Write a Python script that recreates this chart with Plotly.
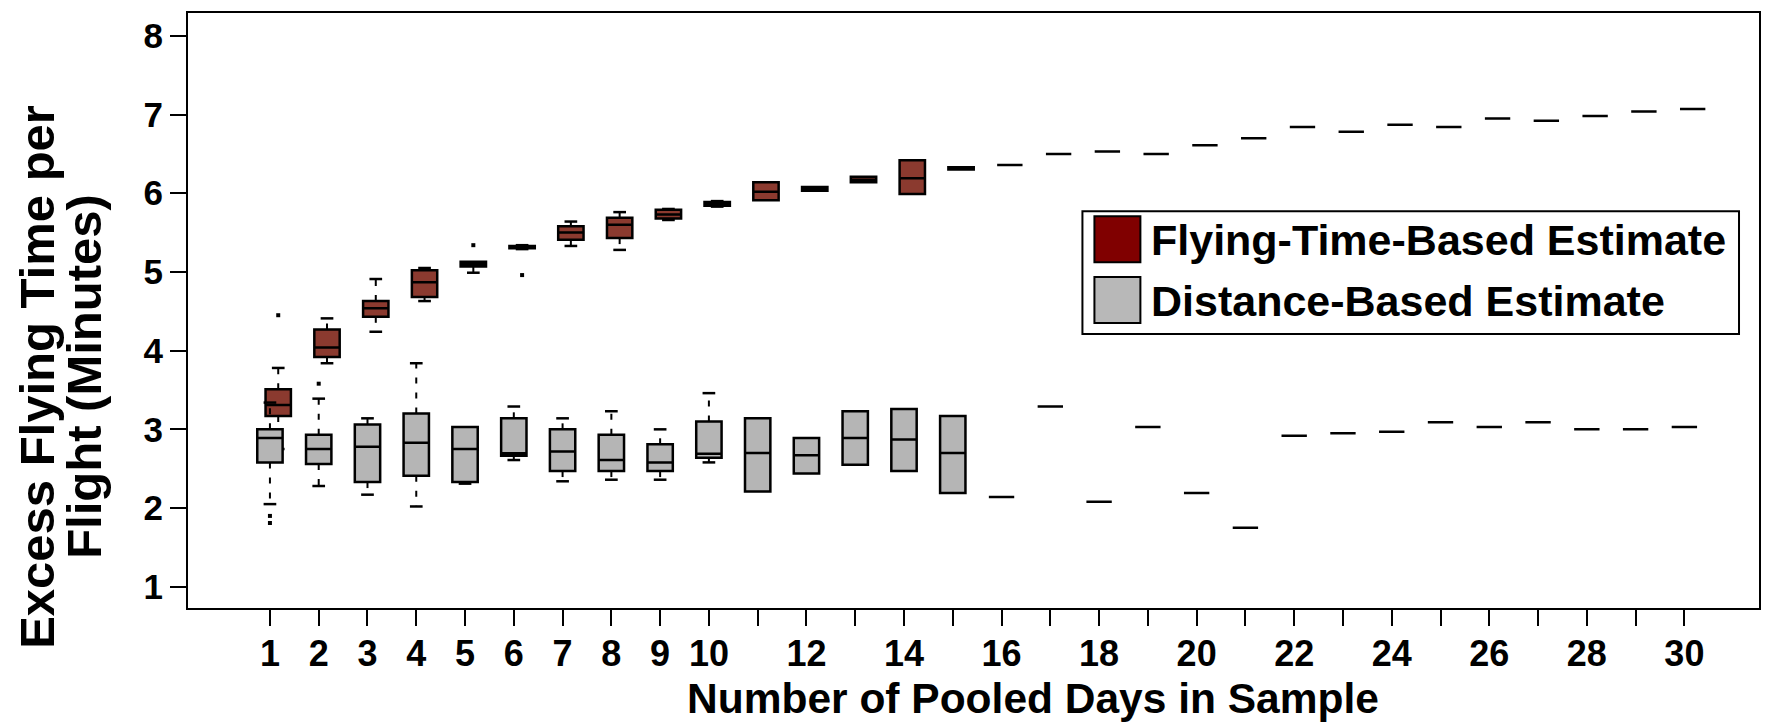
import plotly.graph_objects as go

# ---------------- data ----------------
days_box = [1, 2, 3, 4, 5, 6, 7, 8, 9, 10, 11, 12, 13, 14, 15]
days_single = [16, 17, 18, 19, 20, 21, 22, 23, 24, 25, 26, 27, 28, 29, 30]
x_label_values = [1, 2, 3, 4, 5, 6, 7, 8, 9, 10, 12, 14, 16, 18, 20, 22, 24, 26, 28, 30]
x_label_texts = ["1", "2", "3", "4", "5", "6", "7", "8", "9", "10", "12", "14", "16", "18",
                 "20", "22", "24", "26", "28", "30"]
x_unlabelled_ticks = [11, 13, 15, 17, 19, 21, 23, 25, 27, 29]
y_tick_values = [1, 2, 3, 4, 5, 6, 7, 8]

# Flying-Time-Based Estimate
red_q1 = [3.17, 3.92, 4.43, 4.68, 5.07, 5.30, 5.41, 5.43, 5.68, 5.84, 5.91, 6.03, 6.14, 5.99, 6.30]
red_median = [3.31, 4.04, 4.54, 4.87, 5.10, 5.31, 5.50, 5.60, 5.73, 5.87, 6.02, 6.055, 6.17, 6.19, 6.32]
red_q3 = [3.51, 4.27, 4.63, 5.02, 5.13, 5.33, 5.58, 5.69, 5.79, 5.89, 6.14, 6.08, 6.21, 6.42, 6.33]
red_lower = [2.75, 3.84, 4.24, 4.63, 4.99, 5.29, 5.33, 5.28, 5.66, 5.83, 5.91, 6.03, 6.14, 5.99, 6.30]
red_upper = [3.78, 4.41, 4.91, 5.05, 5.13, 5.34, 5.64, 5.76, 5.80, 5.90, 6.14, 6.08, 6.21, 6.42, 6.33]
red_single = [6.36, 6.50, 6.53, 6.50, 6.61, 6.70, 6.84, 6.78, 6.87, 6.84, 6.95, 6.92, 6.98, 7.04, 7.07]
red_outlier_days = [1, 5, 6]
red_outlier_values = [4.45, 5.34, 4.96]

# Distance-Based Estimate
gray_q1 = [2.58, 2.56, 2.33, 2.41, 2.33, 2.665, 2.47, 2.47, 2.47, 2.64, 2.21, 2.44, 2.55, 2.47, 2.19]
gray_median = [2.89, 2.75, 2.78, 2.83, 2.75, 2.695, 2.72, 2.61, 2.58, 2.69, 2.70, 2.67, 2.89, 2.87, 2.70]
gray_q3 = [3.00, 2.93, 3.06, 3.20, 3.03, 3.14, 3.00, 2.93, 2.81, 3.10, 3.14, 2.89, 3.23, 3.26, 3.17]
gray_lower = [2.05, 2.28, 2.17, 2.02, 2.31, 2.61, 2.34, 2.36, 2.36, 2.58, 2.21, 2.44, 2.55, 2.47, 2.19]
gray_upper = [3.34, 3.39, 3.14, 3.84, 3.03, 3.29, 3.14, 3.23, 3.00, 3.46, 3.14, 2.89, 3.23, 3.26, 3.17]
gray_single = [2.14, 3.29, 2.08, 3.03, 2.19, 1.75, 2.92, 2.95, 2.97, 3.09, 3.03, 3.09, 3.00, 3.00, 3.03]
gray_outlier_days = [1, 1, 2]
gray_outlier_values = [1.90, 1.81, 3.58]

series_names = ["Flying-Time-Based Estimate", "Distance-Based Estimate"]
x_title = "Number of Pooled Days in Sample"
y_title_lines = ["Excess Flying Time per", "Flight (Minutes)"]

# ---------------- style ----------------
FONT = "Liberation Sans, Arial, Helvetica, sans-serif"
RED_FILL = "#8B3A2F"
RED_KEY = "#800000"
GRAY_FILL = "#B5B5B5"
GRAY_KEY = "#B8B8B8"
BOX_WIDTH = 0.52
RED_SHIFT = 0.17
X_RANGE = [-0.68, 31.53]
Y_RANGE = [0.73, 8.29]
W, H = 1772, 728
PL, PT, PW, PH = 188, 11, 1572, 597


def px_x(p):
    return (p - PL) / PW


def px_y(p):
    return (PT + PH - p) / PH


def whiskers(xs, q1, q3, lo, hi):
    half = BOX_WIDTH / 4.0
    wx, wy, sx, sy = [], [], [], []
    for x, a, b, l, h in zip(xs, q1, q3, lo, hi):
        if h > b:
            wx += [x, x, None]
            wy += [b, h, None]
            sx += [x - half, x + half, None]
            sy += [h, h, None]
        if l < a:
            wx += [x, x, None]
            wy += [a, l, None]
            sx += [x - half, x + half, None]
            sy += [l, l, None]
    return wx, wy, sx, sy


def add_series(fig, xs, q1, med, q3, lo, hi, single_x, single_v, out_x, out_v, fill, name, xa, ya):
    wx, wy, sx, sy = whiskers(xs, q1, q3, lo, hi)
    fig.add_trace(go.Scatter(x=wx, y=wy, mode="lines", xaxis=xa, yaxis=ya,
                             line=dict(color="black", width=2, dash="6px,9px"),
                             hoverinfo="skip", showlegend=False))
    fig.add_trace(go.Scatter(x=sx, y=sy, mode="lines", xaxis=xa, yaxis=ya,
                             line=dict(color="black", width=2.5),
                             hoverinfo="skip", showlegend=False))
    allx = list(xs) + list(single_x)
    fig.add_trace(go.Box(
        x=allx,
        q1=list(q1) + list(single_v),
        median=list(med) + list(single_v),
        q3=list(q3) + list(single_v),
        lowerfence=list(q1) + list(single_v),
        upperfence=list(q3) + list(single_v),
        width=BOX_WIDTH, whiskerwidth=0,
        fillcolor=fill, line=dict(color="black", width=2.5),
        name=name, xaxis=xa, yaxis=ya, showlegend=False, boxpoints=False))
    fig.add_trace(go.Scatter(x=out_x, y=out_v, mode="markers", xaxis=xa, yaxis=ya,
                             marker=dict(symbol="square", size=4, color="black"),
                             hoverinfo="skip", showlegend=False))


fig = go.Figure()

red_x = [d + RED_SHIFT for d in days_box]
red_sx = [d + RED_SHIFT for d in days_single]
red_ox = [d + RED_SHIFT for d in red_outlier_days]
add_series(fig, red_x, red_q1, red_median, red_q3, red_lower, red_upper,
           red_sx, red_single, red_ox, red_outlier_values, RED_FILL, series_names[0], "x", "y")
add_series(fig, days_box, gray_q1, gray_median, gray_q3, gray_lower, gray_upper,
           days_single, gray_single, gray_outlier_days, gray_outlier_values, GRAY_FILL,
           series_names[1], "x2", "y2")

axis_common = dict(showline=True, mirror=True, linecolor="black", linewidth=2,
                   ticks="outside", ticklen=16, tickwidth=2, tickcolor="black",
                   showgrid=False, zeroline=False)

fig.update_layout(
    width=W, height=H,
    margin=dict(l=PL, r=W - PL - PW, t=PT, b=H - PT - PH),
    paper_bgcolor="white", plot_bgcolor="white",
    showlegend=False, boxmode="overlay",
    font=dict(family=FONT, color="black", weight="bold"),
    xaxis=dict(range=X_RANGE, tickmode="array", tickvals=x_label_values, ticktext=x_label_texts,
               tickfont=dict(family=FONT, size=36, color="black", weight="bold"),
               tickangle=0, ticklabelstandoff=-3,
               minor=dict(tickmode="array", tickvals=x_unlabelled_ticks, ticks="outside",
                          ticklen=16, tickwidth=2, tickcolor="black", showgrid=False),
               **axis_common),
    yaxis=dict(range=Y_RANGE, tickmode="array", tickvals=y_tick_values,
               ticktext=[str(v) for v in y_tick_values],
               tickfont=dict(family=FONT, size=35, color="black", weight="bold"),
               **axis_common),
    xaxis2=dict(range=X_RANGE, overlaying="x", anchor="y2", visible=False),
    yaxis2=dict(range=Y_RANGE, overlaying="y", anchor="x2", visible=False),
)

# axis titles
fig.add_annotation(text=x_title, xref="paper", yref="paper", x=px_x(1034), y=px_y(699),
                   xanchor="center", yanchor="middle", showarrow=False,
                   font=dict(family=FONT, size=42.5, color="black", weight="bold"))
for line, cx in zip(y_title_lines, [37, 84]):
    fig.add_annotation(text=line, xref="paper", yref="paper", x=px_x(cx), y=px_y(376),
                       xanchor="center", yanchor="middle", showarrow=False, textangle=-90,
                       font=dict(family=FONT, size=49, color="black", weight="bold"))

# legend (drawn as key boxes + text)
fig.add_shape(type="rect", xref="paper", yref="paper", x0=px_x(1083), x1=px_x(1740),
              y0=px_y(333), y1=px_y(210), line=dict(color="black", width=2), fillcolor="white",
              layer="above")
for key_col, top, name in zip([RED_KEY, GRAY_KEY], [215, 276], series_names):
    fig.add_shape(type="rect", xref="paper", yref="paper", x0=px_x(1095), x1=px_x(1141),
                  y0=px_y(top + 46), y1=px_y(top), line=dict(color="black", width=2),
                  fillcolor=key_col, layer="above")
    fig.add_annotation(text=name, xref="paper", yref="paper", x=px_x(1150), y=px_y(top + 24),
                       xanchor="left", yanchor="middle", showarrow=False,
                       font=dict(family=FONT, size=43, color="black", weight="bold"))

fig.write_html("out.html", config={"displayModeBar": False},
               post_script="document.body.style.margin='0';document.body.style.overflow='hidden';")
